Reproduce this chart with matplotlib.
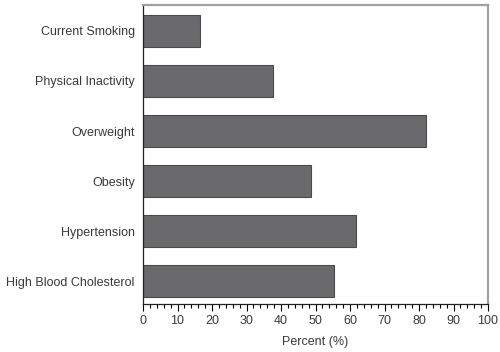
import numpy as np
import matplotlib
matplotlib.use("Agg")
import matplotlib.pyplot as plt
from matplotlib.ticker import MultipleLocator

# data
categories = ["Current Smoking", "Physical Inactivity", "Overweight",
              "Obesity", "Hypertension", "High Blood Cholesterol"]
percent = [16.4, 37.6, 82.0, 48.8, 61.6, 55.3]

plt.rcParams['font.family'] = ['Liberation Sans', 'DejaVu Sans']
text_col = '#3a3a3a'

fig = plt.figure(figsize=(5.0, 3.52), dpi=100)
ax = fig.add_axes([0.286, 0.136, 0.69, 0.850])

y = np.arange(len(categories))
ax.barh(y, percent, height=0.64, color='#6a6a6c', edgecolor='#4a4a4a', linewidth=0.8)

ax.set_xlim(0, 100)
ax.set_ylim(5.46, -0.52)
ax.set_yticks(y)
ax.set_yticklabels(categories)
ax.xaxis.set_major_locator(MultipleLocator(10))
ax.xaxis.set_minor_locator(MultipleLocator(2))

ax.tick_params(axis='y', length=0, pad=6, labelsize=9, labelcolor=text_col)
ax.tick_params(axis='x', which='major', length=5, width=0.8, labelsize=9,
               labelcolor=text_col, direction='out', pad=3)
ax.tick_params(axis='x', which='minor', length=3, width=0.8, direction='out')

for s in ['left', 'bottom']:
    ax.spines[s].set_color('#222222')
    ax.spines[s].set_linewidth(0.9)
for s in ['top', 'right']:
    ax.spines[s].set_color('#a0a0a0')
    ax.spines[s].set_linewidth(1.6)

ax.set_xlabel('Percent (%)', fontsize=9, color=text_col, labelpad=6)

plt.savefig("out.png", dpi=100)
